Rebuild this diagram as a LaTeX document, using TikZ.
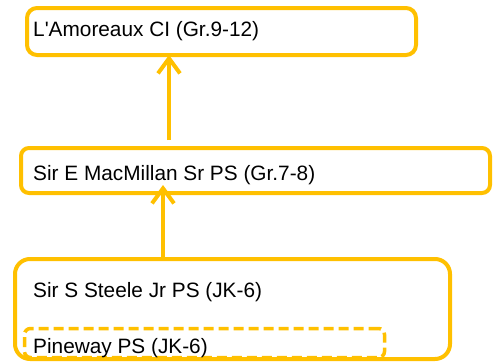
\documentclass[tikz,border=0pt]{standalone}
\usepackage{fontspec}
\setmainfont{Liberation Sans}[Ligatures=TeXOff]
\usetikzlibrary{arrows.meta}
\definecolor{gold}{HTML}{FFC000}

\begin{document}
\begin{tikzpicture}[x=1pt,y=-1pt,
  schoolbox/.style={draw=gold,line width=4pt,rounded corners=#1,anchor=north west,inner sep=0pt,outer sep=0pt},
  schoolbox/.default=9pt,
  schoolname/.style={anchor=base west,inner sep=0pt,font=\fontsize{20.8}{24}\selectfont},
  link/.style={draw=gold,line width=4pt,-{Straight Barb[length=15pt,width=22pt,line width=4pt]}}]
  \useasboundingbox (0,0) rectangle (493,364);
  % frames
  \node[schoolbox=10pt,minimum width=389pt,minimum height=47pt] (amor) at (27,8) {};
  \node[schoolbox=8pt,minimum width=469pt,minimum height=45pt] (mac) at (21,148) {};
  \node[schoolbox=15pt,minimum width=435pt,minimum height=100pt] (steele) at (15,259) {};
  \node[schoolbox=6pt,line width=3.5pt,dash pattern=on 10pt off 5pt,minimum width=360pt,minimum height=29pt] (pine) at (24.5,328.5) {};
  % school names
  \node[schoolname] (amortxt) at (33,36) {L'Amoreaux CI (Gr.9-12)};
  \node[schoolname] (mactxt) at (33,180) {Sir E MacMillan Sr PS (Gr.7-8)};
  \node[schoolname] (steeletxt) at (33,297) {Sir S Steele Jr PS (JK-6)};
  \node[schoolname] (pinetxt) at (33,353) {Pineway PS (JK-6)};
  % feeder arrows
  \draw[link] ([xshift=148pt,yshift=8pt]mac.north west) -- ([xshift=142pt]amor.south west);
  \draw[link] ([xshift=148pt]steele.north west) -- ([xshift=142pt,yshift=8pt]mac.south west);
\end{tikzpicture}
\end{document}
